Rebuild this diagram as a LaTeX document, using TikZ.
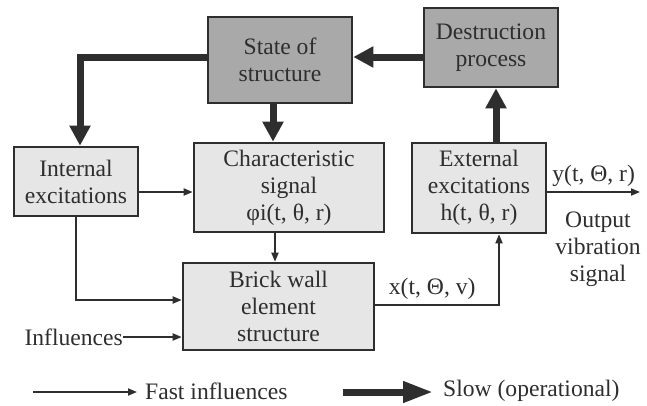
\documentclass[tikz,border=0pt]{standalone}
\usepackage{fontspec}
\setmainfont{Liberation Serif}
\newfontfamily\tnr{Liberation Serif}
\usetikzlibrary{arrows.meta,calc}
\definecolor{ink}{HTML}{2E2E2E}
\definecolor{lightbox}{HTML}{E6E6E6}
\definecolor{darkbox}{HTML}{A9A9A9}
\tikzset{
  txt/.style={text=ink,font=\tnr\fontsize{23.6}{27}\selectfont,align=center,inner sep=0pt},
  lbox/.style={txt,draw=ink,line width=2.6pt,fill=lightbox},
  dbox/.style={txt,draw=ink,line width=2.6pt,fill=darkbox},
  fast/.style={draw=ink,line width=1.8pt,-{Triangle[length=9pt,width=7pt]}},
  slow/.style={draw=ink,line width=7pt,-{Triangle[length=20pt,width=20pt]}},
}
\begin{document}
\begin{tikzpicture}[x=1pt,y=-1pt]
\useasboundingbox (0,0) rectangle (647,405);
\fill[white] (0,0) rectangle (647,405);
% boxes
\node[dbox,minimum width=144pt,minimum height=86pt] (state) at (280,60) {State of\\structure};
\node[dbox,minimum width=134pt,minimum height=79pt] (destr) at (491,47.5) {Destruction\\process};
\node[lbox,minimum width=124pt,minimum height=69pt] (intern) at (76,181.5) {Internal\\excitations};
\node[lbox,minimum width=190pt,minimum height=89pt] (charsig) at (289,187.5) {Characteristic\\signal\\φi(t, θ, r)};
\node[lbox,minimum width=134pt,minimum height=90pt] (extern) at (479,188) {External\\excitations\\h(t, θ, r)};
\node[lbox,minimum width=191pt,minimum height=87pt] (brick) at (278.5,306.5) {Brick wall\\element\\structure};
\node[txt,anchor=east] (infl) at (123,337) {Influences};
% slow arrows
\coordinate (stE) at ([yshift=3pt]state.east);
\draw[slow] ([yshift=3pt]state.west) -| ([xshift=4pt]intern.north);
\draw[slow] ([xshift=-7pt]state.south) -- ([xshift=-7pt]state.south |- charsig.north);
\draw[slow] (destr.west |- stE) -- (stE);
\draw[slow] ([xshift=17pt]extern.north) -- ([xshift=17pt]extern.north |- destr.south);
% fast arrows
\draw[fast] ([yshift=-10.5pt]intern.east) -- ([yshift=-10.5pt]intern.east -| charsig.west);
\draw[fast] (intern.south) |- ([yshift=6.5pt]brick.west);
\draw[fast] (infl.east) -- (infl.east -| brick.west);
\draw[fast] ([xshift=-14pt]charsig.south) -- ([xshift=-14pt]charsig.south |- brick.north);
\draw[fast] ([yshift=1.5pt]brick.east) -| node[txt,pos=0.23,above=5pt] (xlab) {x(t, Θ, v)} ([xshift=20pt]extern.south);
\coordinate (out) at (640,192);
\draw[fast] (extern.east |- out) -- node[txt,above=5pt] (ylab) {y(t, Θ, r)} (out);
\node[txt,anchor=north] (outlab) at (598,212) {Output\\vibration\\signal};
% legend
\coordinate (fa) at (33,392);
\coordinate (fb) at (137,392);
\draw[fast] (fa) -- (fb);
\node[txt,anchor=west] (fastlab) at (145,391) {Fast influences};
\coordinate (sa) at (343,392);
\coordinate (sb) at (433,392);
\draw[slow,-{Triangle[length=30pt,width=20pt]}] (sa) -- (sb);
\node[txt,anchor=west] (slowlab) at (443,391) {Slow (operational)};
\end{tikzpicture}
\end{document}
